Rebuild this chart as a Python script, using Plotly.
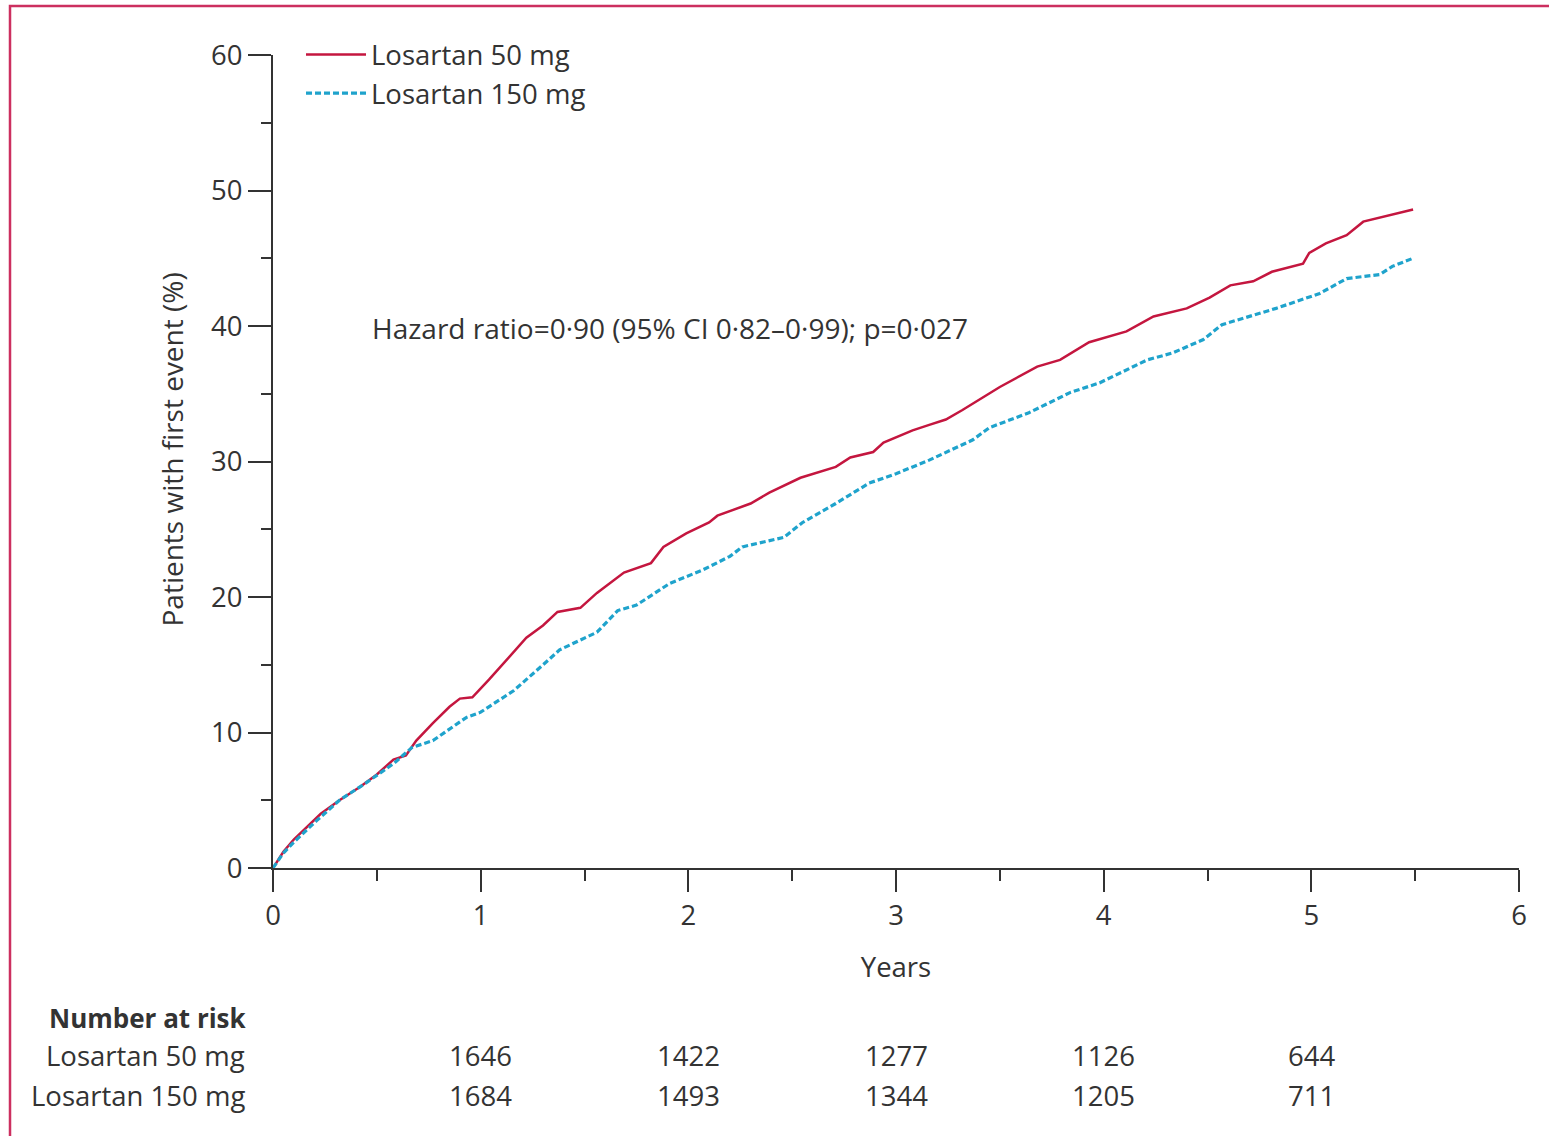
import plotly.graph_objects as go

# ---- data ----
years_50 = [0, 0.05, 0.1, 0.16, 0.23, 0.32, 0.42, 0.5, 0.58, 0.64, 0.69, 0.77, 0.85, 0.9, 0.96,
            1.04, 1.12, 1.22, 1.3, 1.37, 1.48, 1.56, 1.69, 1.82, 1.88, 1.99, 2.10, 2.14, 2.30,
            2.39, 2.54, 2.71, 2.78, 2.89, 2.94, 3.08, 3.16, 3.24, 3.32, 3.50, 3.68, 3.79, 3.93,
            4.11, 4.24, 4.40, 4.51, 4.61, 4.72, 4.81, 4.96, 4.99, 5.07, 5.17, 5.25, 5.36, 5.49]
pct_50 = [0, 1.2, 2.1, 3.0, 4.0, 5.0, 6.0, 6.9, 8.0, 8.3, 9.4, 10.7, 11.9, 12.5, 12.6,
          13.9, 15.3, 17.0, 17.9, 18.9, 19.2, 20.3, 21.8, 22.5, 23.7, 24.7, 25.5, 26.0, 26.9,
          27.7, 28.8, 29.6, 30.3, 30.7, 31.4, 32.3, 32.7, 33.1, 33.8, 35.5, 37.0, 37.5, 38.8,
          39.6, 40.7, 41.3, 42.1, 43.0, 43.3, 44.0, 44.6, 45.4, 46.1, 46.7, 47.7, 48.1, 48.6]

years_150 = [0, 0.05, 0.1, 0.21, 0.32, 0.45, 0.58, 0.67, 0.77, 0.93, 1.0, 1.11, 1.16, 1.33,
             1.38, 1.56, 1.66, 1.75, 1.91, 2.07, 2.20, 2.26, 2.46, 2.55, 2.71, 2.87, 3.00,
             3.16, 3.37, 3.45, 3.64, 3.84, 3.98, 4.21, 4.33, 4.48, 4.57, 4.83, 5.04, 5.17,
             5.33, 5.39, 5.49]
pct_150 = [0, 1.1, 1.9, 3.5, 5.0, 6.3, 7.7, 8.9, 9.4, 11.1, 11.5, 12.6, 13.1, 15.4,
           16.1, 17.4, 19.0, 19.4, 21.0, 22.0, 23.0, 23.7, 24.4, 25.5, 26.9, 28.4, 29.1,
           30.1, 31.6, 32.5, 33.6, 35.1, 35.8, 37.5, 38.0, 39.0, 40.1, 41.3, 42.4, 43.5,
           43.8, 44.4, 45.0]

series_names = ["Losartan 50 mg", "Losartan 150 mg"]
risk_years = [1, 2, 3, 4, 5]
risk_50 = [1646, 1422, 1277, 1126, 644]
risk_150 = [1684, 1493, 1344, 1205, 711]
annotation_text = "Hazard ratio=0·90 (95% CI 0·82–0·99); p=0·027"
x_title = "Years"
y_title = "Patients with first event (%)"

# ---- styles ----
FONT = "'Open Sans', 'Noto Sans', sans-serif"
FS = 27.5
TXT = "#333333"
RED = "#C4163F"
BLUE = "#1FA3CC"
BORDER = "#CC2F5F"

W, H = 1549, 1136
PL, PR, PT, PB = 273, 1519, 55, 868   # plot area in page px


def px_x(page_x):
    return (page_x - PL) / (PR - PL)


def px_y(page_y):
    return (PB - page_y) / (PB - PT)


fig = go.Figure()
fig.add_trace(go.Scatter(x=years_50, y=pct_50, mode="lines", name=series_names[0],
                         line=dict(color=RED, width=2.5)))
fig.add_trace(go.Scatter(x=years_150, y=pct_150, mode="lines", name=series_names[1],
                         line=dict(color=BLUE, width=3.2, dash="6px,3px")))

axis_common = dict(showline=True, linecolor=TXT, linewidth=2, ticks="outside",
                   tickcolor=TXT, tickwidth=2, showgrid=False, zeroline=False,
                   tickfont=dict(family=FONT, size=FS, color=TXT))

fig.update_xaxes(range=[0, 6], dtick=1, tick0=0, ticklen=22,
                 minor=dict(dtick=0.5, tick0=0, ticklen=11, ticks="outside",
                            tickcolor=TXT, tickwidth=2, showgrid=False),
                 title=dict(text=x_title, font=dict(family=FONT, size=FS, color=TXT), standoff=26),
                 **axis_common)
fig.update_yaxes(range=[0, 60], dtick=10, tick0=0, ticklen=23,
                 minor=dict(dtick=5, tick0=0, ticklen=10, ticks="outside",
                            tickcolor=TXT, tickwidth=2, showgrid=False),
                 **axis_common)

annotations = [
    dict(x=0.467, y=39.85, xref="x", yref="y", text=annotation_text,
         showarrow=False, xanchor="left", yanchor="middle",
         font=dict(family=FONT, size=28, color=TXT)),
    # y-axis title (placed as rotated text to match the reference position)
    dict(x=px_x(171), y=px_y(449.5), xref="paper", yref="paper", text=y_title,
         textangle=-90, showarrow=False, xanchor="center", yanchor="middle",
         font=dict(family=FONT, size=28, color=TXT)),
]

# Number at risk table
annotations.append(dict(x=px_x(47), y=px_y(1018), xref="paper", yref="paper",
                        text="<b>Number at risk</b>", showarrow=False,
                        xanchor="left", yanchor="middle",
                        font=dict(family=FONT, size=26, color=TXT)))
for name, vals, ypix in [(series_names[0], risk_50, 1055), (series_names[1], risk_150, 1095)]:
    annotations.append(dict(x=px_x(247), y=px_y(ypix), xref="paper", yref="paper",
                            text=name, showarrow=False, xanchor="right", yanchor="middle",
                            font=dict(family=FONT, size=FS, color=TXT)))
    for yr, v in zip(risk_years, vals):
        annotations.append(dict(x=yr, y=px_y(ypix), xref="x", yref="paper", text=str(v),
                                showarrow=False, xanchor="center", yanchor="middle",
                                font=dict(family=FONT, size=FS, color=TXT)))

shapes = [dict(type="rect", xref="paper", yref="paper",
               x0=px_x(10), x1=px_x(1600), y0=px_y(1200), y1=px_y(6),
               line=dict(color=BORDER, width=2.5), layer="below")]

fig.update_layout(
    width=W, height=H,
    margin=dict(l=PL, r=W - PR, t=PT, b=H - PB, autoexpand=False),
    paper_bgcolor="white", plot_bgcolor="white",
    font=dict(family=FONT, color=TXT),
    showlegend=True,
    legend=dict(x=px_x(301), y=px_y(30), xanchor="left", yanchor="top",
                bgcolor="rgba(0,0,0,0)", itemwidth=60, tracegroupgap=0,
                font=dict(family=FONT, size=FS, color=TXT)),
    annotations=annotations,
    shapes=shapes,
)

fig.write_html("out.html", config={"displayModeBar": False},
               post_script="document.body.style.margin='0';document.body.style.overflow='hidden';")
